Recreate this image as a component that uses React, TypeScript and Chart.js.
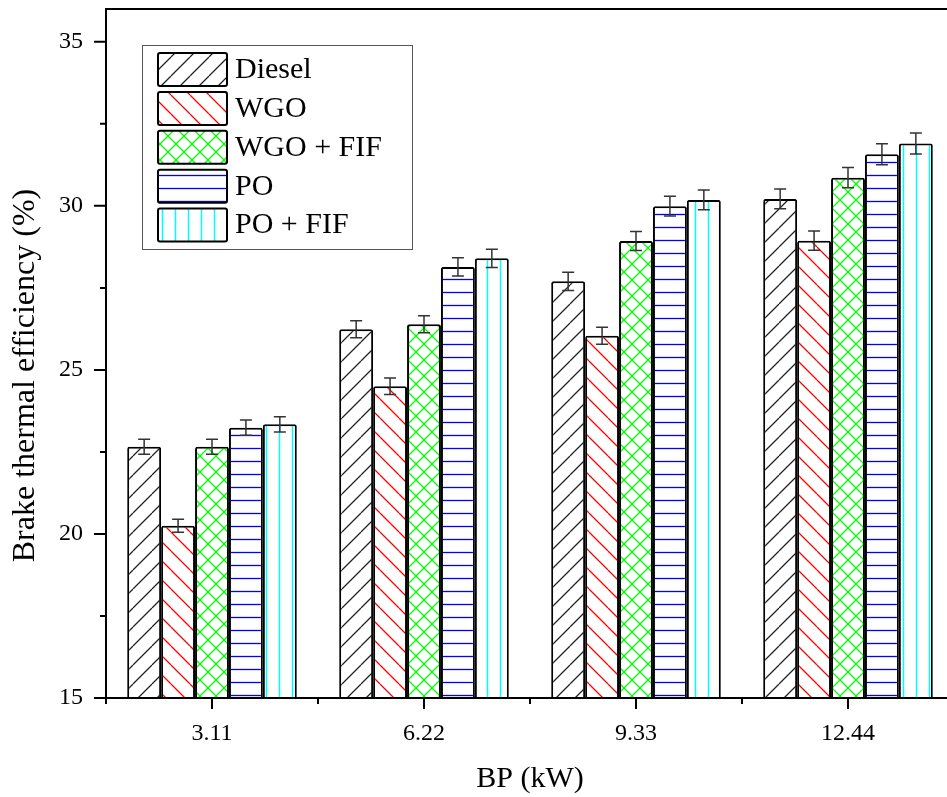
import React, { useEffect, useRef } from "react";
import { Chart, registerables } from "chart.js";

Chart.register(...registerables);

// ---- data ----
const categories = ["3.11", "6.22", "9.33", "12.44"];
const seriesNames = ["Diesel", "WGO", "WGO + FIF", "PO", "PO + FIF"];
const diesel = [22.66, 26.24, 27.7, 30.21];
const wgo = [20.25, 24.5, 26.04, 28.94];
const wgoFif = [22.66, 26.39, 28.93, 30.86];
const po = [23.24, 28.14, 29.99, 31.57];
const poFif = [23.34, 28.4, 30.18, 31.9];
const dieselErr = [0.23, 0.26, 0.28, 0.3];
const wgoErr = [0.2, 0.25, 0.26, 0.29];
const wgoFifErr = [0.23, 0.26, 0.29, 0.31];
const poErr = [0.23, 0.28, 0.3, 0.32];
const poFifErr = [0.23, 0.28, 0.3, 0.32];
const yMajorTicks = [15, 20, 25, 30, 35];
const yMinorTicks = [17.5, 22.5, 27.5, 32.5];
const yMin = 15;
const yMax = 36;
const xTitle = "BP (kW)";
const yTitle = "Brake thermal efficiency (%)";

const FONT = '"Liberation Serif", "Times New Roman", Times, serif';

function makePattern(kind: string, color: string): CanvasPattern {
  const c = document.createElement("canvas");
  let w = 19;
  let h = 19;
  if (kind === "cross") { w = 16; h = 16; }
  if (kind === "h") { w = 8; h = 13; }
  if (kind === "v") { w = 13; h = 8; }
  c.width = w;
  c.height = h;
  const g = c.getContext("2d") as CanvasRenderingContext2D;
  g.fillStyle = "#ffffff";
  g.fillRect(0, 0, w, h);
  g.strokeStyle = color;
  g.lineWidth = 1.3;
  g.beginPath();
  if (kind === "fwd" || kind === "cross") {
    for (const k of [-1, 0, 1]) {
      g.moveTo(k * w, h);
      g.lineTo(k * w + w, 0);
    }
  }
  if (kind === "back" || kind === "cross") {
    for (const k of [-1, 0, 1]) {
      g.moveTo(k * w, 0);
      g.lineTo(k * w + w, h);
    }
  }
  if (kind === "h") {
    g.lineWidth = 1.3;
    g.moveTo(0, h / 2);
    g.lineTo(w, h / 2);
  }
  if (kind === "v") {
    g.lineWidth = 1.5;
    g.moveTo(w / 2, 0);
    g.lineTo(w / 2, h);
  }
  g.stroke();
  return g.createPattern(c, "repeat") as CanvasPattern;
}

const errorBarPlugin = {
  id: "errorBars",
  afterDatasetsDraw(chart: any) {
    const ctx = chart.ctx;
    const yScale = chart.scales.y;
    ctx.save();
    ctx.strokeStyle = "#333333";
    ctx.lineWidth = 1.5;
    chart.data.datasets.forEach((ds: any, i: number) => {
      const meta = chart.getDatasetMeta(i);
      meta.data.forEach((bar: any, j: number) => {
        const v = ds.data[j];
        const e = ds.errors[j];
        const x = bar.x;
        const yt = yScale.getPixelForValue(v + e);
        const yb = yScale.getPixelForValue(v - e);
        ctx.beginPath();
        ctx.moveTo(x, yt);
        ctx.lineTo(x, yb);
        ctx.moveTo(x - 6, yt);
        ctx.lineTo(x + 6, yt);
        ctx.moveTo(x - 6, yb);
        ctx.lineTo(x + 6, yb);
        ctx.stroke();
      });
    });
    ctx.restore();
  },
};

const framePlugin = {
  id: "frame",
  afterDraw(chart: any) {
    const ctx = chart.ctx;
    const { left, right, top, bottom } = chart.chartArea;
    const xs = chart.scales.x;
    const ys = chart.scales.y;
    ctx.save();
    ctx.strokeStyle = "#000";
    ctx.lineWidth = 2;
    ctx.beginPath();
    ctx.moveTo(right + 10, top);
    ctx.lineTo(left, top);
    ctx.lineTo(left, bottom);
    ctx.lineTo(right + 10, bottom);
    yMajorTicks.forEach((t) => {
      const y = ys.getPixelForValue(t);
      ctx.moveTo(left - 12, y);
      ctx.lineTo(left, y);
    });
    yMinorTicks.forEach((t) => {
      const y = ys.getPixelForValue(t);
      ctx.moveTo(left - 6, y);
      ctx.lineTo(left, y);
    });
    categories.forEach((_, i) => {
      const x = xs.getPixelForValue(i);
      ctx.moveTo(x, bottom);
      ctx.lineTo(x, bottom + 11);
    });
    for (let i = 0; i <= categories.length; i++) {
      const x = xs.getPixelForValue(i - 0.5);
      ctx.moveTo(x, bottom);
      ctx.lineTo(x, bottom + 6);
    }
    ctx.stroke();

    // y axis title
    ctx.save();
    ctx.translate(34, (top + bottom) / 2 + 22);
    ctx.rotate(-Math.PI / 2);
    ctx.fillStyle = "#000";
    ctx.font = `32px ${FONT}`;
    ctx.textAlign = "center";
    ctx.textBaseline = "alphabetic";
    ctx.fillText(yTitle, 0, 0);
    ctx.restore();

    ctx.restore();
  },
};

const legendPlugin = {
  id: "customLegend",
  afterDraw(chart: any) {
    const ctx = chart.ctx;
    const { left, top } = chart.chartArea;
    const bx = left + 36;
    const by = top + 36;
    const bw = 270;
    const bh = 204;
    ctx.save();
    ctx.strokeStyle = "#555555";
    ctx.lineWidth = 1;
    ctx.strokeRect(bx + 0.5, by + 0.5, bw, bh);
    chart.data.datasets.forEach((ds: any, i: number) => {
      const sx = bx + 16;
      const sy = by + 8 + i * 38.9;
      ctx.fillStyle = ds.backgroundColor;
      ctx.fillRect(sx, sy, 69, 33);
      ctx.strokeStyle = "#000";
      ctx.lineWidth = 2;
      ctx.beginPath();
      (ctx as any).roundRect ? (ctx as any).roundRect(sx, sy, 69, 33, 2) : ctx.rect(sx, sy, 69, 33);
      ctx.stroke();
      ctx.fillStyle = "#000";
      ctx.font = `30px ${FONT}`;
      ctx.textBaseline = "middle";
      ctx.textAlign = "left";
      ctx.fillText(ds.label, bx + 93, sy + 17);
    });
    ctx.restore();
  },
};

export default function App() {
  const ref = useRef<HTMLCanvasElement | null>(null);
  useEffect(() => {
    if (!ref.current) return;
    const values = [diesel, wgo, wgoFif, po, poFif];
    const errs = [dieselErr, wgoErr, wgoFifErr, poErr, poFifErr];
    const patterns = [
      makePattern("fwd", "#222222"),
      makePattern("back", "#ff0000"),
      makePattern("cross", "#00ff00"),
      makePattern("h", "#0000ff"),
      makePattern("v", "#00ffff"),
    ];
    const chart = new Chart(ref.current, {
      type: "bar",
      data: {
        labels: categories,
        datasets: seriesNames.map((name, i) => ({
          label: name,
          data: values[i],
          errors: errs[i],
          backgroundColor: patterns[i],
          borderColor: "#000000",
          borderWidth: 2,
          borderSkipped: false,
          borderRadius: 2,
          categoryPercentage: 0.8,
          barPercentage: 1.0,
        })) as any,
      },
      options: {
        animation: false,
        responsive: false,
        devicePixelRatio: 1,
        layout: { padding: { top: 9, right: 6, left: 0, bottom: 0 } },
        plugins: {
          legend: { display: false },
          tooltip: { enabled: false },
        },
        scales: {
          x: {
            type: "category",
            offset: true,
            grid: { display: false, drawTicks: false },
            border: { display: false },
            ticks: {
              padding: 21,
              color: "#000",
              font: { family: FONT, size: 24 },
              maxRotation: 0,
            },
            title: {
              display: true,
              text: xTitle,
              color: "#000",
              font: { family: FONT, size: 30, lineHeight: 1.2 },
              padding: { top: 0, bottom: 0 },
            },
            afterFit: (s: any) => {
              s.height = 99;
              s.paddingLeft = 0;
              s.paddingRight = 0;
            },
          },
          y: {
            type: "linear",
            min: yMin,
            max: yMax,
            grid: { display: false, drawTicks: false },
            border: { display: false },
            ticks: {
              stepSize: 5,
              includeBounds: false,
              padding: 23,
              color: "#000",
              font: { family: FONT, size: 24 },
            },
            title: { display: false },
            afterFit: (s: any) => {
              s.width = 106;
              s.paddingTop = 0;
              s.paddingBottom = 0;
            },
          },
        },
      } as any,
      plugins: [errorBarPlugin, framePlugin, legendPlugin],
    });
    return () => chart.destroy();
  }, []);
  return (
    <div
      style={{
        position: "fixed",
        left: 0,
        top: 0,
        width: 947,
        height: 797,
        overflow: "hidden",
        background: "#fff",
      }}
    >
      <canvas ref={ref} width={960} height={797} style={{ display: "block" }} />
    </div>
  );
}
